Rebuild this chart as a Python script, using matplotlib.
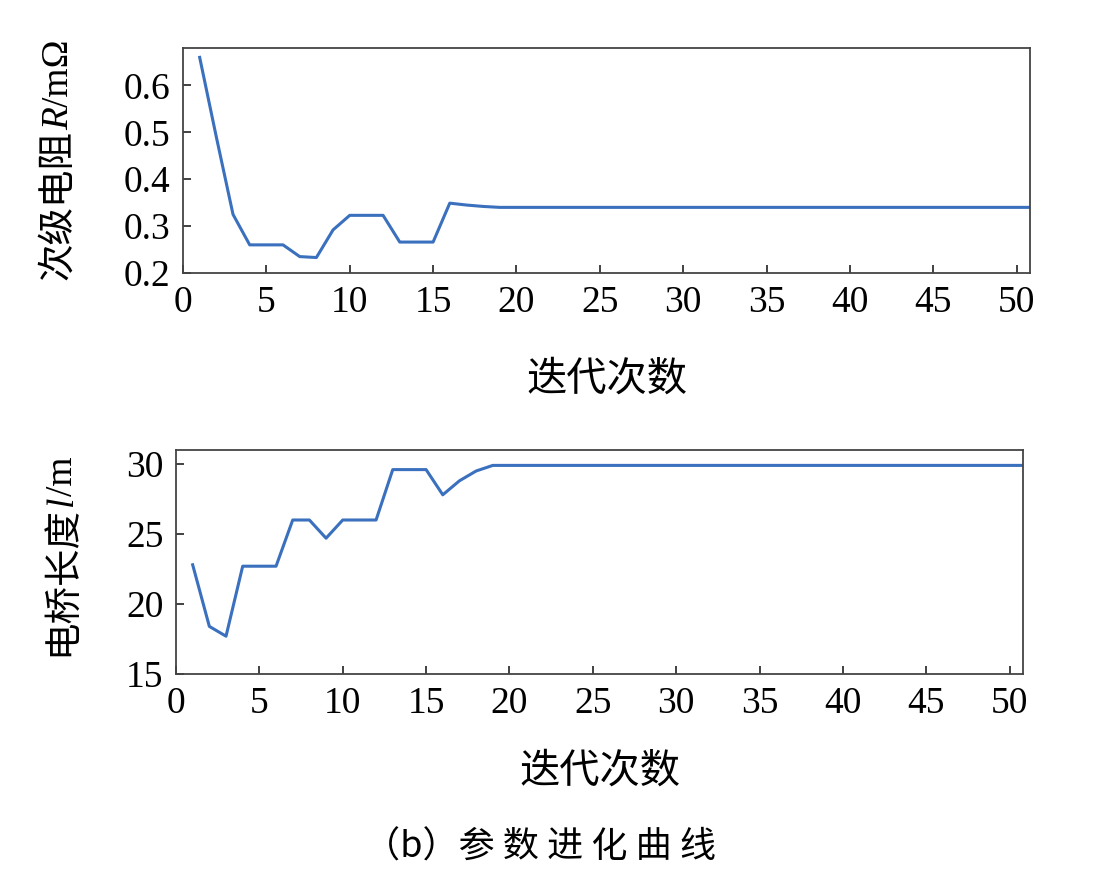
import matplotlib
matplotlib.use('Agg')
import matplotlib.pyplot as plt

plt.rcParams['font.family'] = ['Liberation Serif', 'Noto Sans CJK SC']

# 迭代次数 1..51
iters = list(range(1, 52))
# 次级电阻 R / mΩ
resist = [0.66, 0.49, 0.325, 0.26, 0.26, 0.26, 0.235, 0.233, 0.292, 0.323,
          0.323, 0.323, 0.266, 0.266, 0.266, 0.349, 0.345, 0.342, 0.34, 0.34,
          0.34, 0.34, 0.34, 0.34, 0.34, 0.34, 0.34, 0.34, 0.34, 0.34,
          0.34, 0.34, 0.34, 0.34, 0.34, 0.34, 0.34, 0.34, 0.34, 0.34,
          0.34, 0.34, 0.34, 0.34, 0.34, 0.34, 0.34, 0.34, 0.34, 0.34, 0.34]
# 电桥长度 l / m
length = [22.8, 18.4, 17.7, 22.7, 22.7, 22.7, 26.0, 26.0, 24.7, 26.0,
          26.0, 26.0, 29.6, 29.6, 29.6, 27.8, 28.8, 29.5, 29.9, 29.9,
          29.9, 29.9, 29.9, 29.9, 29.9, 29.9, 29.9, 29.9, 29.9, 29.9,
          29.9, 29.9, 29.9, 29.9, 29.9, 29.9, 29.9, 29.9, 29.9, 29.9,
          29.9, 29.9, 29.9, 29.9, 29.9, 29.9, 29.9, 29.9, 29.9, 29.9, 29.9]

xticks = list(range(0, 51, 5))
yticks_r = [0.2, 0.3, 0.4, 0.5, 0.6]
yticks_l = [15, 20, 25, 30]

W, H = 1109, 888
fig = plt.figure(figsize=(W / 100, H / 100), dpi=100)
line_c = '#3a70bd'
fs = 27


def px_axes(l, t, r, b):
    return fig.add_axes([l / W, 1 - b / H, (r - l) / W, (b - t) / H])


def style(ax):
    for s in ax.spines.values():
        s.set_color('#444444')
        s.set_linewidth(1.3)
    ax.tick_params(direction='in', length=6, width=1.3, color='#333333',
                   labelsize=fs, pad=9)
    ax.set_xticks(xticks)
    ax.set_xlim(0, 50.8)


ax1 = px_axes(183, 48, 1030, 273)
ax1.plot(iters, resist, color=line_c, lw=2.2)
style(ax1)
ax1.set_ylim(0.2, 0.68)
ax1.set_yticks(yticks_r)
ax1.set_yticklabels([str(v) for v in yticks_r])
ax1.set_xlabel('迭代次数', fontsize=29, labelpad=30)

ax2 = px_axes(176, 450, 1023, 674)
ax2.plot(iters, length, color=line_c, lw=2.2)
style(ax2)
ax2.set_ylim(15, 31)
ax2.set_yticks(yticks_l)
ax2.set_xlabel('迭代次数', fontsize=29, labelpad=24)

fig.text(540 / W, 1 - 848 / H, '（b）参 数 进 化 曲 线', fontsize=26,
         family=['Noto Sans CJK SC', 'Liberation Serif'],
         ha='center', va='center')

# rotated y labels built from pieces (italic variable in the middle)
fig.canvas.draw()
renderer = fig.canvas.get_renderer()


def stacked_label(xc, yc, pieces):
    widths = []
    for s, kw in pieces:
        t = fig.text(0, 0, s, fontsize=fs, **kw)
        widths.append(t.get_window_extent(renderer).width)
        t.remove()
    total = sum(widths)
    y = yc - total / 2
    for (s, kw), w in zip(pieces, widths):
        fig.text((xc + fs * 0.45) / W, y / H, s,
                 fontsize=fs, rotation=90, rotation_mode='anchor',
                 ha='left', va='baseline', **kw)
        y += w


stacked_label(56, H - 160, [('次级电阻', {}),
                            ('R', {'style': 'italic', 'family': 'Liberation Serif'}),
                            ('/mΩ', {'family': 'Liberation Serif'})])
stacked_label(60, H - 556, [('电桥长度', {}),
                            ('l', {'style': 'italic', 'family': 'Liberation Serif'}),
                            ('/m', {'family': 'Liberation Serif'})])

fig.savefig('out.png', dpi=100)
